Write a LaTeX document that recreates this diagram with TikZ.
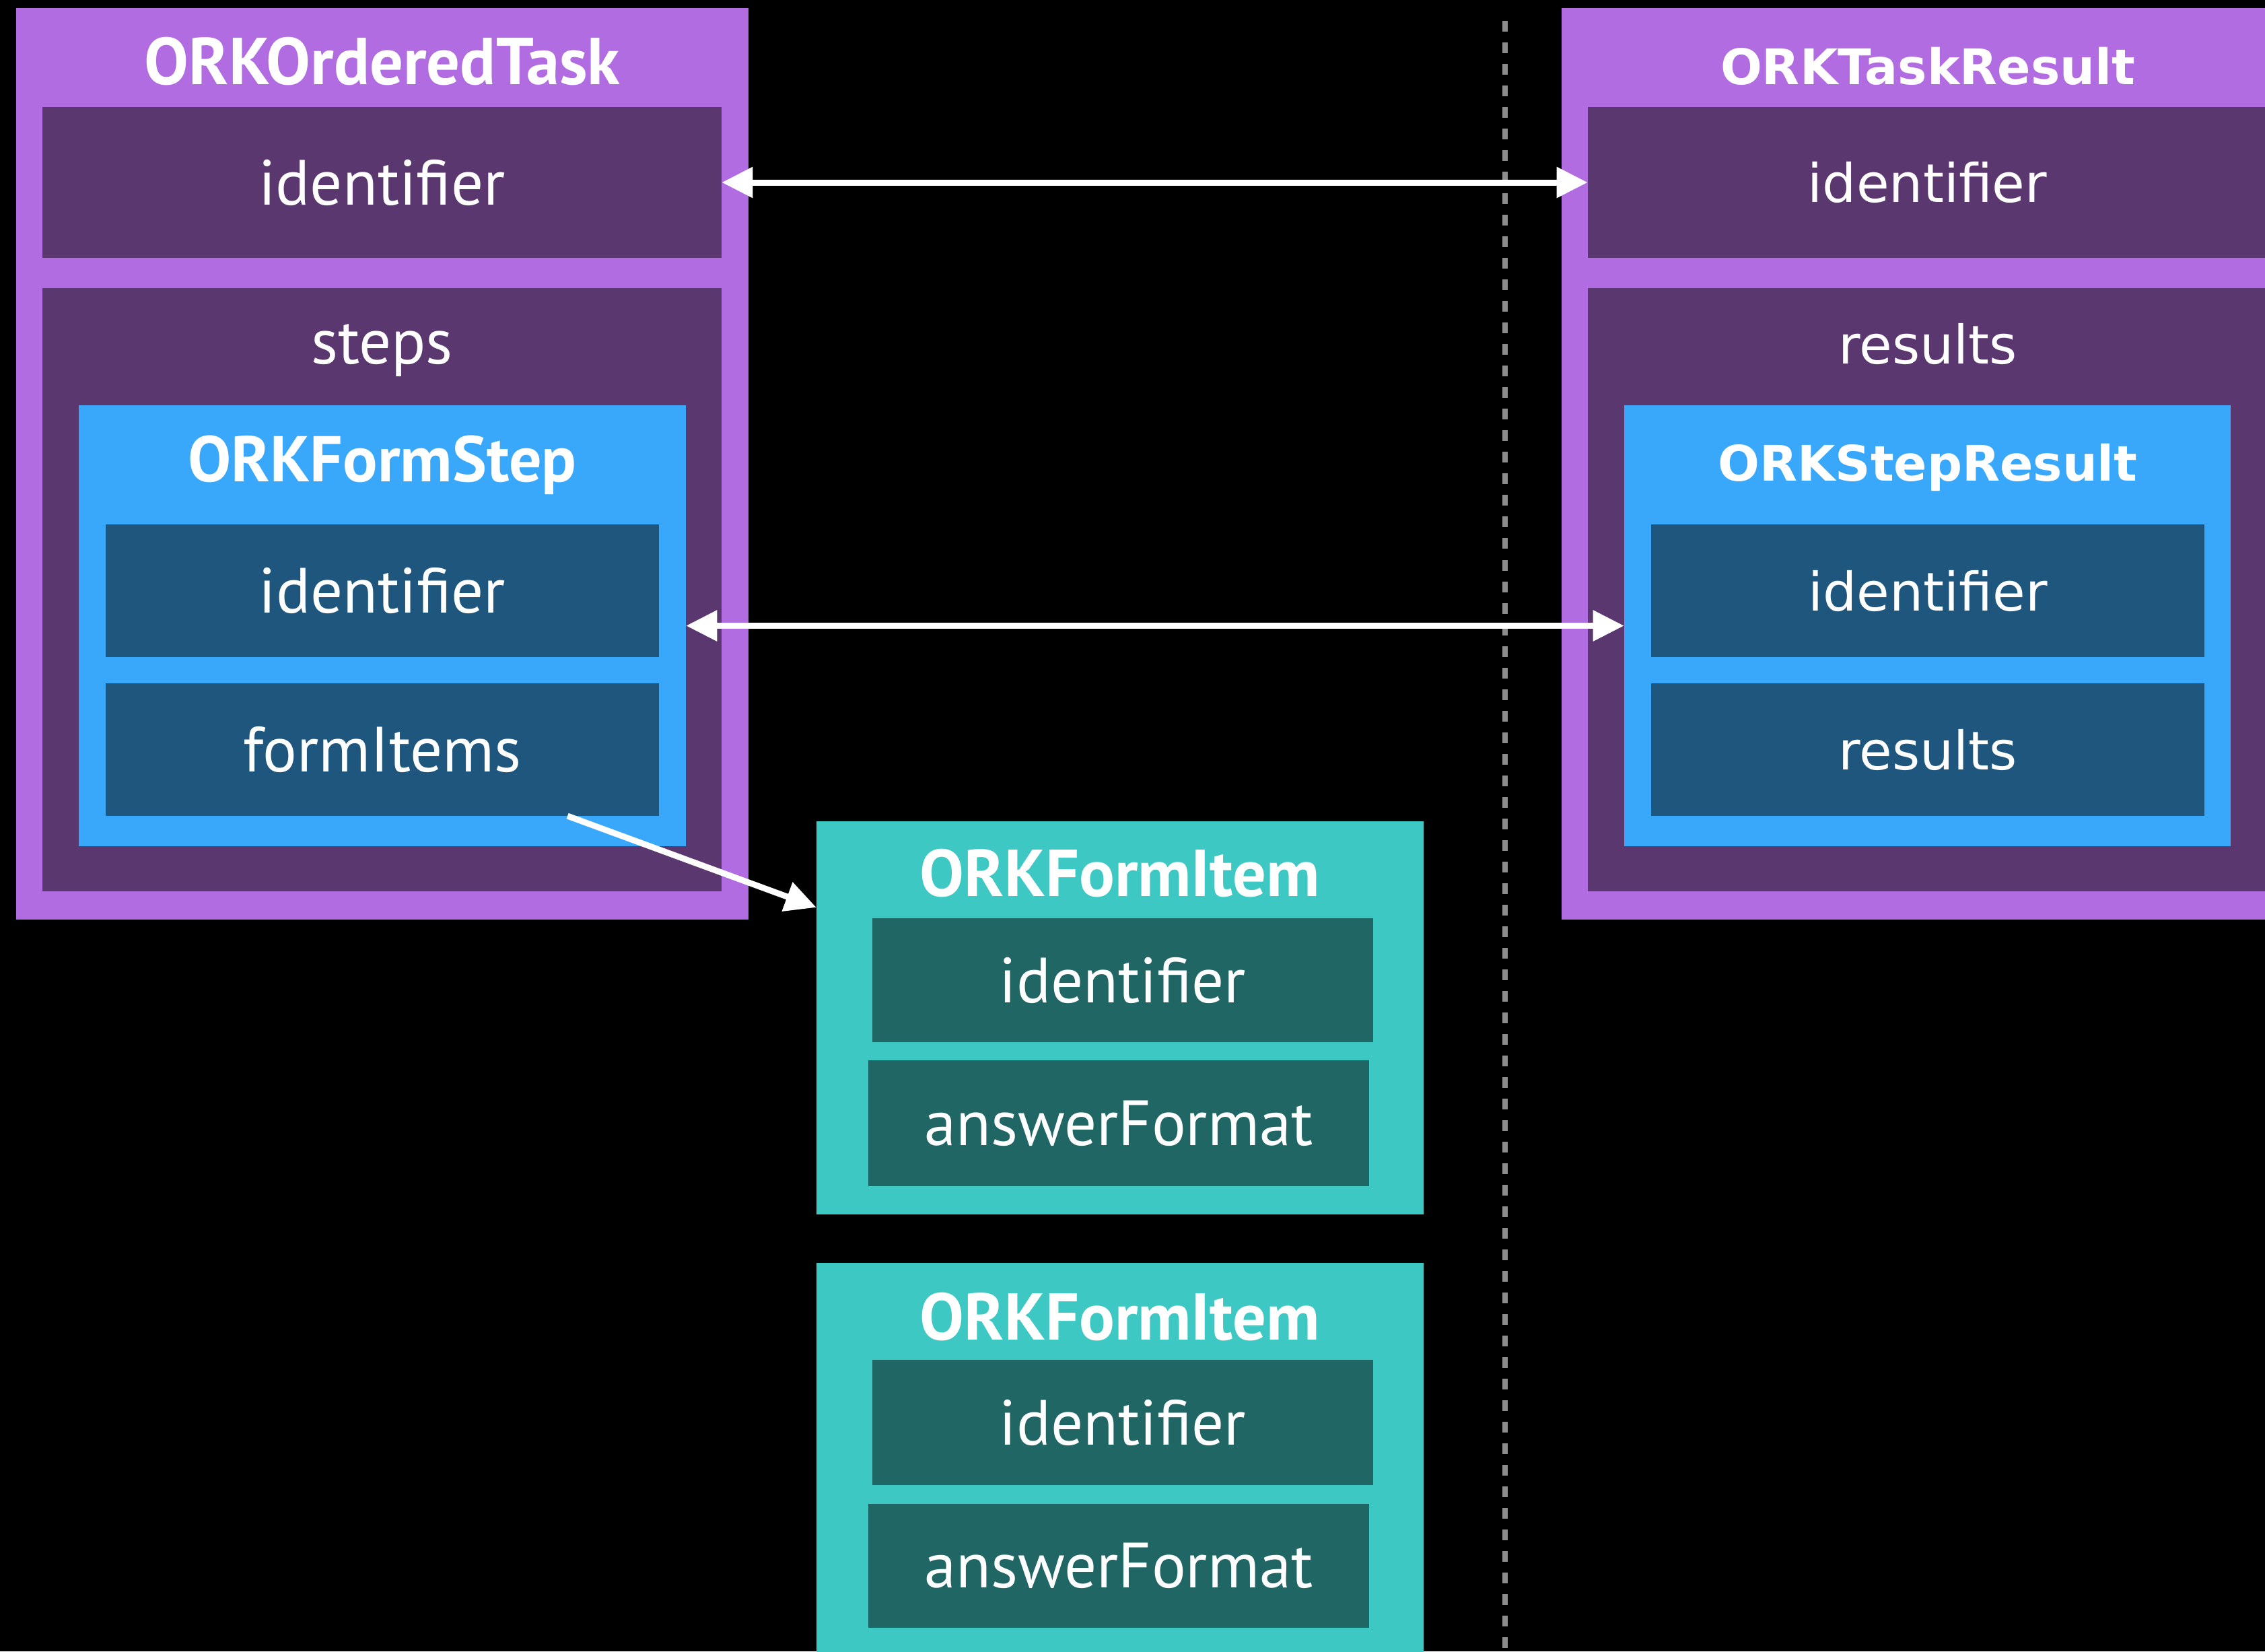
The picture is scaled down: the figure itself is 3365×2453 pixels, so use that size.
\documentclass[tikz,border=0pt]{standalone}
\usepackage{fontspec}
\setmainfont{PT Sans}
\newfontfamily\resfont{DejaVu Sans}
\usetikzlibrary{arrows.meta}
\definecolor{taskouter}{HTML}{B06CE0}
\definecolor{taskinner}{HTML}{5B3770}
\definecolor{stepouter}{HTML}{3AA8FA}
\definecolor{stepinner}{HTML}{1E567E}
\definecolor{itemouter}{HTML}{3EC8C3}
\definecolor{iteminner}{HTML}{206664}
\definecolor{divider}{HTML}{8C8C8C}
\begin{document}
\begin{tikzpicture}[x=0.01cm,y=-0.01cm,
    box/.style={rectangle,inner sep=0pt,outer sep=0pt,text=white,font=\fontsize{27}{27}\selectfont},
    title/.style={anchor=base,inner sep=0pt,text=white,font=\bfseries\fontsize{28}{28}\selectfont},
    rbox/.style={box,font=\resfont\fontsize{22.5}{22.5}\selectfont},
    rtitle/.style={title,font=\resfont\bfseries\fontsize{20.7}{20.7}\selectfont},
    link/.style={white,line width=0.09cm,{Triangle[length=0.46cm,width=0.44cm]}-{Triangle[length=0.46cm,width=0.44cm]}},
    onelink/.style={white,line width=0.09cm,-{Triangle[length=0.46cm,width=0.44cm]}}]
    \fill[black](0,0)rectangle(3365,2453);
    \clip(0,0)rectangle(3365,2453);
    % separator
    \draw[divider,line width=0.08cm,dash pattern=on 0.16cm off 0.16cm](2236,31)--(2236,2460);
    % task
    \node[box,fill=taskouter,minimum width=10.88cm,minimum height=13.54cm](task)at(568,689){};
    \node[title](tasktitle)at(568,125){ORKOrderedTask};
    \node[box,fill=taskinner,minimum width=10.09cm,minimum height=2.24cm](taskid)at(567.5,271){identifier};
    \node[box,fill=taskinner,minimum width=10.09cm,minimum height=8.96cm](tasksteps)at(567.5,876){};
    \node[box,anchor=base](stepslabel)at(567.5,540){steps};
    \node[box,fill=stepouter,minimum width=9.02cm,minimum height=6.55cm](formstep)at(568,929.5){};
    \node[title,font=\bfseries\fontsize{27.3}{27.3}\selectfont](formsteptitle)at(568,715){ORKFormStep};
    \node[box,fill=stepinner,minimum width=8.22cm,minimum height=1.97cm](fsid)at(568,877.5){identifier};
    \node[box,fill=stepinner,minimum width=8.22cm,minimum height=1.97cm](fsitems)at(568,1113.5){formItems};
    % result
    \node[box,fill=taskouter,minimum width=10.88cm,minimum height=13.54cm](result)at(2864,689){};
    \node[rtitle](resulttitle)at(2864,125){ORKTaskResult};
    \node[rbox,fill=taskinner,minimum width=10.09cm,minimum height=2.24cm](resid)at(2863.5,271){identifier};
    \node[box,fill=taskinner,minimum width=10.09cm,minimum height=8.96cm](resresults)at(2863.5,876){};
    \node[rbox,anchor=base](resultslabel)at(2864,540){results};
    \node[box,fill=stepouter,minimum width=9.01cm,minimum height=6.55cm](stepres)at(2863.5,929.5){};
    \node[rtitle](steprestitle)at(2864,714){ORKStepResult};
    \node[rbox,fill=stepinner,minimum width=8.22cm,minimum height=1.97cm](srid)at(2864,877.5){identifier};
    \node[rbox,fill=stepinner,minimum width=8.22cm,minimum height=1.97cm](srresults)at(2864,1113.5){results};
    % form items
    \node[box,fill=itemouter,minimum width=9.02cm,minimum height=5.84cm](item1)at(1664,1512){};
    \node[title](item1title)at(1664,1331){ORKFormItem};
    \node[box,fill=iteminner,minimum width=7.44cm,minimum height=1.84cm](item1id)at(1668,1456){identifier};
    \node[box,fill=iteminner,minimum width=7.44cm,minimum height=1.87cm](item1fmt)at(1662,1668.5){answerFormat};
    \node[box,fill=itemouter,minimum width=9.02cm,minimum height=5.94cm](item2)at(1664,2173){};
    \node[title](item2title)at(1664,1990){ORKFormItem};
    \node[box,fill=iteminner,minimum width=7.44cm,minimum height=1.86cm](item2id)at(1668,2113){identifier};
    \node[box,fill=iteminner,minimum width=7.44cm,minimum height=1.84cm](item2fmt)at(1662,2326){answerFormat};
    % links
    \draw[link](taskid.east)--(resid.west);
    \draw[link](formstep.east)--(stepres.west);
    \draw[onelink]([xshift=2.75cm]fsitems.south)--([yshift=-1.28cm]item1.north west);
\end{tikzpicture}
\end{document}
